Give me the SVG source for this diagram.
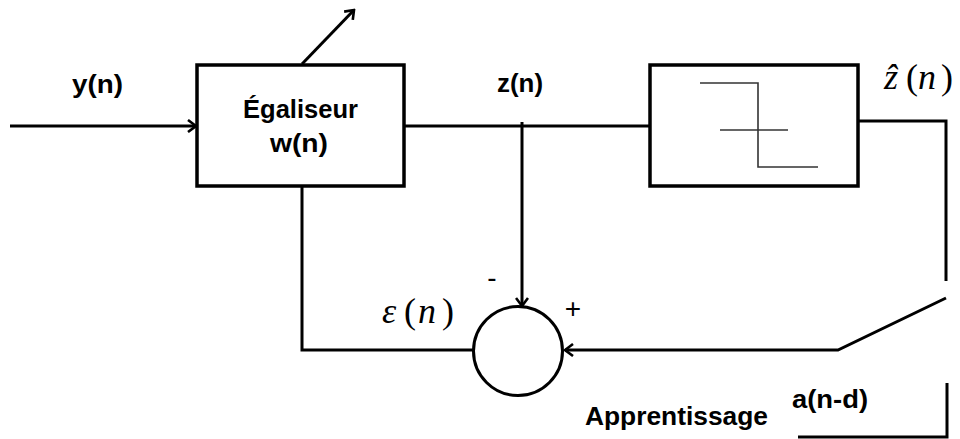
<svg xmlns="http://www.w3.org/2000/svg" width="960" height="439" viewBox="0 0 960 439">
<style>
.ln{fill:none;stroke:#000;stroke-width:3}
.box{fill:#fff;stroke:#000;stroke-width:3.5}
.thin{fill:none;stroke:#333;stroke-width:1.6}
.b{font-family:"Liberation Sans",Arial,sans-serif;font-weight:bold;font-size:26px;fill:#000}
.m{font-family:"Liberation Serif","Times New Roman",serif;font-size:36px;fill:#000}
.i{font-style:italic}
.s{font-family:"Liberation Sans",Arial,sans-serif;font-size:28px;fill:#000}
</style>
<defs>
<marker id="ah" viewBox="0 0 14 14" refX="12" refY="7" markerWidth="14" markerHeight="14" markerUnits="userSpaceOnUse" orient="auto">
<polyline points="4,1 12,7 4,13" fill="none" stroke="#000" stroke-width="2.6"/>
</marker>
</defs>
<rect width="960" height="439" fill="#fff"/>
<g id="connectors">
<line class="ln" x1="10" y1="126" x2="196" y2="126" marker-end="url(#ah)"/>
<line class="ln" x1="404" y1="126" x2="650" y2="126"/>
<line class="ln" x1="302" y1="64" x2="354" y2="10" marker-end="url(#ah)"/>
<line class="ln" x1="522" y1="122" x2="522" y2="306" marker-end="url(#ah)"/>
<polyline class="ln" points="858,121 946,121 946,281"/>
<polyline class="ln" points="946,298 838,350 565,350" marker-end="url(#ah)"/>
<polyline class="ln" points="302,186 302,350 473,350"/>
<polyline class="ln" points="947,383 947,437 798,437"/>
</g>
<g id="egaliseur">
<rect class="box" x="197" y="65" width="207" height="121"/>
<text class="b" x="243" y="118" textLength="115" lengthAdjust="spacingAndGlyphs">Égaliseur</text>
<text class="b" x="270" y="152" textLength="58" lengthAdjust="spacingAndGlyphs">w(n)</text>
</g>
<g id="decision">
<rect class="box" x="650" y="65" width="208" height="121"/>
<polyline class="thin" points="700,83 758,83 758,167 818,167"/>
<line class="thin" x1="720" y1="130" x2="788" y2="130"/>
</g>
<g id="sum">
<circle cx="518" cy="351" r="44.5" fill="#fff" stroke="#000" stroke-width="3"/>
<text class="s" x="492" y="287" text-anchor="middle">-</text>
<text class="s" x="573" y="318" text-anchor="middle">+</text>
</g>
<g id="labels">
<text class="b" x="72" y="93" textLength="51" lengthAdjust="spacingAndGlyphs">y(n)</text>
<text class="b" x="497" y="92" textLength="46" lengthAdjust="spacingAndGlyphs">z(n)</text>
<text class="m" y="89"><tspan class="i" x="884">ẑ</tspan><tspan x="906">(</tspan><tspan class="i" x="918">n</tspan><tspan x="941">)</tspan></text>
<text class="m" y="323"><tspan class="i" x="382">ε</tspan><tspan x="404">(</tspan><tspan class="i" x="418">n</tspan><tspan x="442">)</tspan></text>
<text class="b" x="585" y="425" textLength="183" lengthAdjust="spacingAndGlyphs">Apprentissage</text>
<text class="b" x="792" y="408" textLength="76" lengthAdjust="spacingAndGlyphs">a(n-d)</text>
</g>
</svg>
